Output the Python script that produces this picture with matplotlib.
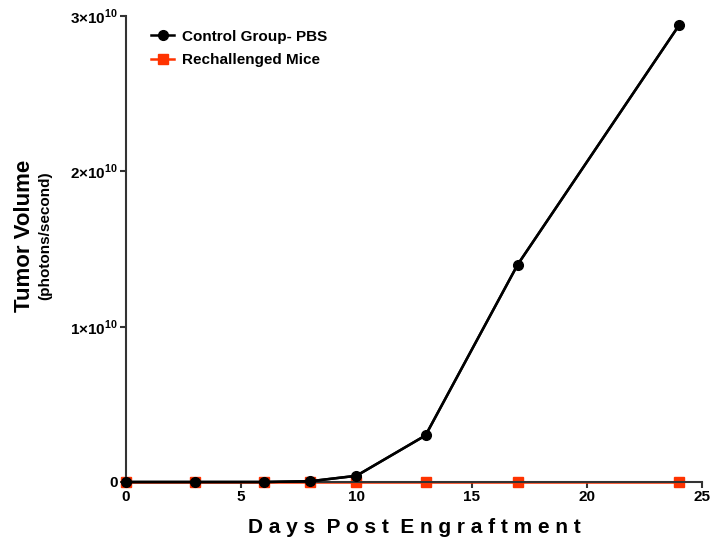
import matplotlib
matplotlib.use("Agg")
import matplotlib.pyplot as plt
from matplotlib.ticker import FixedLocator

plt.rcParams['font.family'] = ['Liberation Sans', 'DejaVu Sans']
plt.rcParams['font.weight'] = 'bold'
plt.rcParams['mathtext.fontset'] = 'custom'
plt.rcParams['mathtext.rm'] = 'Liberation Sans:bold'
plt.rcParams['mathtext.bf'] = 'Liberation Sans:bold'

days = [0, 3, 6, 8, 10, 13, 17, 24]
control_pbs = [0.0, 0.0, 0.0, 0.05e9, 0.4e9, 3.0e9, 1.4e10, 2.94e10]
rechallenged = [0.0, 0.0, 0.0, 0.0, 0.0, 0.0, 0.0, 0.0]

x_ticks = [0, 5, 10, 15, 20, 25]
y_ticks = [0, 1e10, 2e10, 3e10]
y_tick_labels = ["0", r"$1{\times}10^{10}$", r"$2{\times}10^{10}$", r"$3{\times}10^{10}$"]

fig = plt.figure(figsize=(7.12, 5.45), dpi=100)
ax = fig.add_axes([0.177, 0.1156, 0.809, 0.855])

ax.plot(days, control_pbs, color='black', lw=1.8, marker='o', ms=7,
        label='Control Group- PBS', clip_on=False, zorder=3)
ax.plot(days, rechallenged, color='#ff3300', lw=1.8, marker='s', ms=7,
        mec='#ff3300', label='Rechallenged Mice', clip_on=False, zorder=2)
# black line drawn over the red baseline
ax.plot(days, control_pbs, color='black', lw=1.8, clip_on=False, zorder=4)

ax.set_xlim(0, 25)
ax.set_ylim(0, 3e10)
ax.xaxis.set_major_locator(FixedLocator(x_ticks))
ax.set_xticklabels([str(t) for t in x_ticks])
ax.yaxis.set_major_locator(FixedLocator(y_ticks))
ax.set_yticklabels(y_tick_labels)

for s in ['top', 'right']:
    ax.spines[s].set_visible(False)
for s in ['left', 'bottom']:
    ax.spines[s].set_linewidth(1.5)
    ax.spines[s].set_color('#333333')
ax.tick_params(axis='both', direction='out', length=4, width=1.5,
               color='#333333', labelsize=11, pad=2)

ax.set_xlabel("D a y s  P o s t  E n g r a f t m e n t", fontsize=15,
              fontweight='bold', labelpad=10)

fig.text(0.034, 0.567, "Tumor Volume", rotation=90, fontsize=16,
         fontweight='bold', ha='center', va='center')
fig.text(0.064, 0.567, "(photons/second)", rotation=90, fontsize=11,
         fontweight='bold', ha='center', va='center')

ax.legend(loc='upper left', bbox_to_anchor=(0.02, 1.0), frameon=False,
          handlelength=1.5, handletextpad=0.5, labelspacing=0.6,
          prop={'weight': 'bold', 'size': 11})

fig.savefig("out.png", dpi=100)
